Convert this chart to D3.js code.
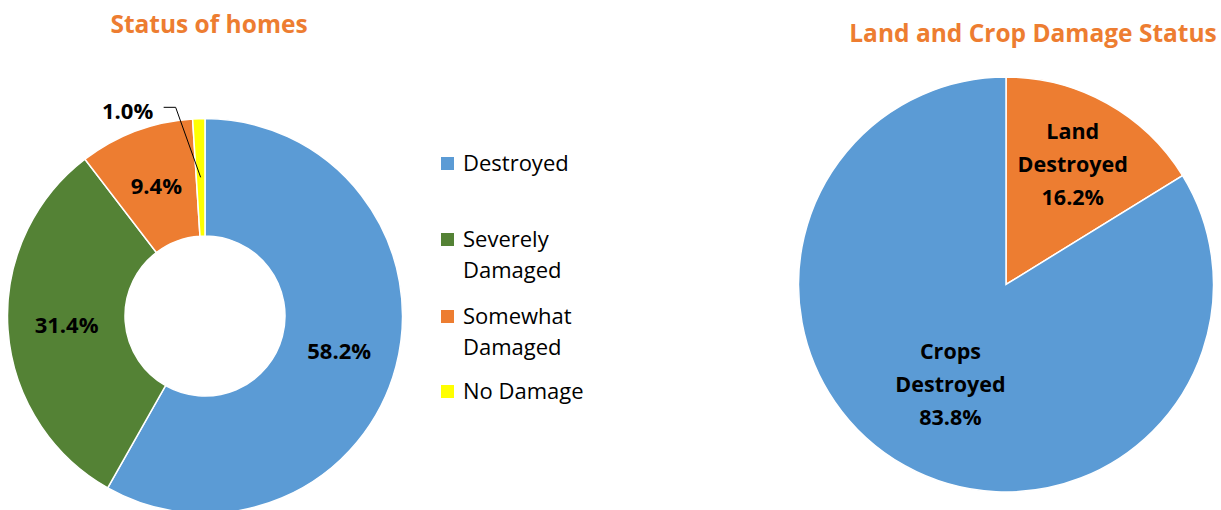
<!DOCTYPE html>
<html>
<head>
<meta charset="utf-8">
<script src="https://cdn.jsdelivr.net/npm/d3@7"></script>
<style>
  body { margin: 0; background: #fff; }
  svg { display: block; font-family: "Open Sans", sans-serif; }
</style>
</head>
<body>
<div id="chart"></div>
<script>
// home status (donut)
const homeCats = ["Destroyed", "Severely Damaged", "Somewhat Damaged", "No Damage"];
const homeVals = [58.2, 31.4, 9.4, 1.0];
const homeColors = ["#5B9BD5", "#548235", "#ED7D31", "#FFFF00"];
const legendLines = [["Destroyed"], ["Severely", "Damaged"], ["Somewhat", "Damaged"], ["No Damage"]];

// land / crop (pie)
const landCats = ["Land Destroyed", "Crops Destroyed"];
const landVals = [16.2, 83.8];
const landColors = ["#ED7D31", "#5B9BD5"];
const landLabelLines = [["Land", "Destroyed"], ["Crops", "Destroyed"]];

const width = 1221, height = 510;

const svg = d3.select("#chart").append("svg")
    .attr("width", width)
    .attr("height", height);

const fmt = v => v.toFixed(1) + "%";

// ---- left: Status of homes
svg.append("text")
    .attr("x", 209).attr("y", 33)
    .attr("text-anchor", "middle")
    .attr("font-size", 24.5).attr("font-weight", "bold")
    .attr("fill", "#ED7D31")
    .text("Status of homes");

const pie = d3.pie().sort(null).value(d => d);

const dR = 197.5, dr = 80;
const donutArc = d3.arc().innerRadius(dr).outerRadius(dR);

const dg = svg.append("g").attr("transform", "translate(205,316)");
const homeArcs = pie(homeVals);

dg.selectAll("path")
  .data(homeArcs)
  .join("path")
    .attr("d", donutArc)
    .attr("fill", (d, i) => homeColors[i])
    .attr("stroke", "#fff")
    .attr("stroke-width", 1.5);

dg.selectAll("text.lbl")
  .data(homeArcs.filter(d => d.value > 5))
  .join("text")
    .attr("class", "lbl")
    .attr("transform", d => `translate(${donutArc.centroid(d)})`)
    .attr("text-anchor", "middle")
    .attr("dy", "0.35em")
    .attr("font-size", 22).attr("font-weight", "bold")
    .text(d => fmt(d.value));

// small slice gets an outside label with a leader line
homeArcs.filter(d => d.value <= 5).forEach(d => {
  const [cx, cy] = donutArc.centroid(d);
  const lx = cx - 73, ly = cy - 66;
  dg.append("polyline")
      .attr("points", [[cx, cy], [cx - 25, ly - 4], [cx - 37, ly - 4]].join(" "))
      .attr("fill", "none")
      .attr("stroke", "#000")
      .attr("stroke-width", 1);
  dg.append("text")
      .attr("x", lx).attr("y", ly)
      .attr("text-anchor", "middle")
      .attr("dy", "0.35em")
      .attr("font-size", 22).attr("font-weight", "bold")
      .text(fmt(d.value));
});

// legend
const legendY = [157, 233, 310, 385];
const leg = svg.append("g").attr("transform", "translate(441,0)");
homeCats.forEach((c, i) => {
  leg.append("rect")
      .attr("x", 0).attr("y", legendY[i])
      .attr("width", 13).attr("height", 13)
      .attr("fill", homeColors[i]);
  legendLines[i].forEach((t, j) => {
    leg.append("text")
        .attr("x", 22).attr("y", legendY[i] + 14 + j * 31)
        .attr("font-size", 22)
        .attr("fill", "#000")
        .text(t);
  });
});

// ---- right: Land and Crop Damage Status
svg.append("text")
    .attr("x", 1033).attr("y", 42)
    .attr("text-anchor", "middle")
    .attr("font-size", 24.5).attr("font-weight", "bold")
    .attr("fill", "#ED7D31")
    .text("Land and Crop Damage Status");

const pR = 207.5;
const pieArc = d3.arc().innerRadius(0).outerRadius(pR);
const labelR = [137, 114];

const pg = svg.append("g").attr("transform", "translate(1006,284.5)");
const landArcs = pie(landVals);

pg.selectAll("path")
  .data(landArcs)
  .join("path")
    .attr("d", pieArc)
    .attr("fill", (d, i) => landColors[i])
    .attr("stroke", "#fff")
    .attr("stroke-width", 1.5);

landArcs.forEach((d, i) => {
  const a = (d.startAngle + d.endAngle) / 2;
  const x = Math.sin(a) * labelR[i], y = -Math.cos(a) * labelR[i];
  const lines = landLabelLines[i].concat([fmt(d.value)]);
  const t = pg.append("text")
      .attr("text-anchor", "middle")
      .attr("font-size", 21.5).attr("font-weight", "bold");
  lines.forEach((s, j) => {
    t.append("tspan")
        .attr("x", x)
        .attr("y", y + (j - 1) * 33)
        .attr("dy", "0.35em")
        .text(s);
  });
});
</script>
</body>
</html>
